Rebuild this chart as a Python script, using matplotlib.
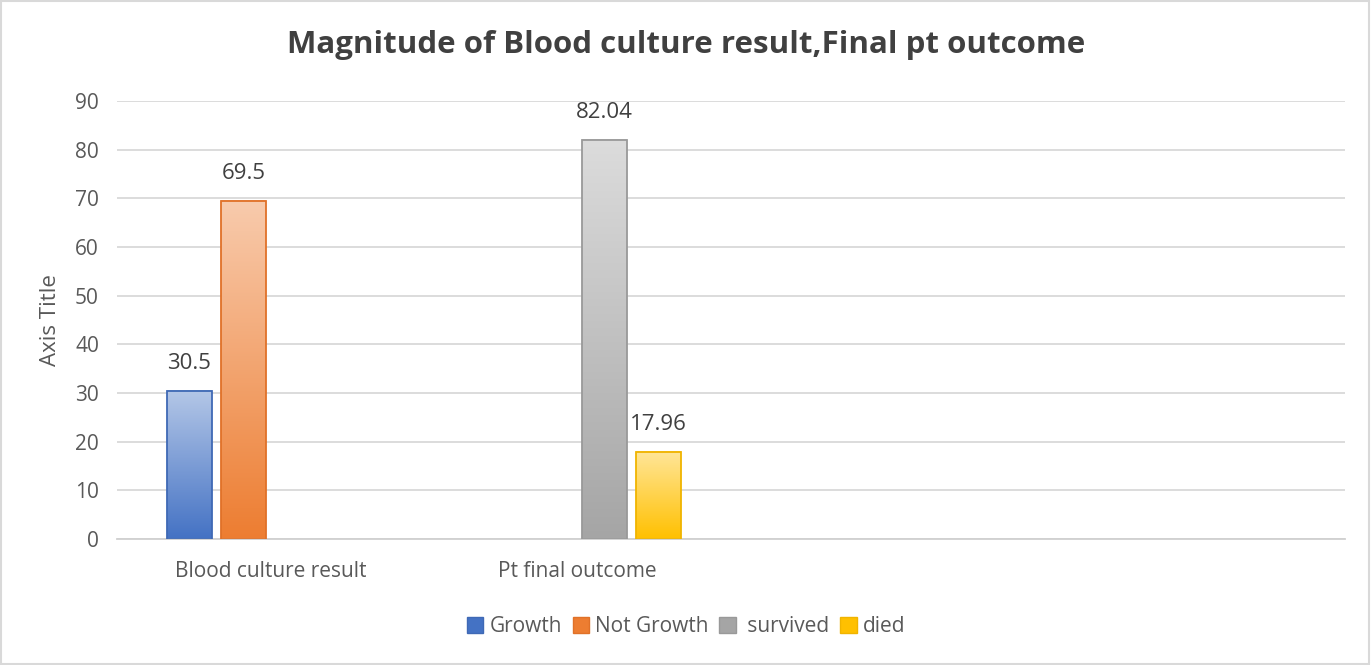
import numpy as np
import matplotlib.pyplot as plt
import matplotlib.colors as mcolors
from matplotlib.patches import Rectangle, Patch

# data
categories = ['Blood culture result', 'Pt final outcome', '', '']
series = ['Growth', 'Not Growth', ' survived', 'died']
growth = [30.5, 0, 0, 0]
not_growth = [69.5, 0, 0, 0]
survived = [0, 82.04, 0, 0]
died = [0, 17.96, 0, 0]
value_labels = [['30.5', '', '', ''], ['69.5', '', '', ''],
                ['', '82.04', '', ''], ['', '17.96', '', '']]

# top colour, bottom colour, edge colour
colors = [('#b4c7e7', '#4472c4', '#3f69b5'),
          ('#f8cbad', '#ed7d31', '#e07128'),
          ('#dcdcdc', '#a5a5a5', '#999999'),
          ('#ffe699', '#ffc000', '#f0b400')]

plt.rcParams['font.family'] = ['Open Sans', 'DejaVu Sans']

fig = plt.figure(figsize=(13.72, 6.65), dpi=100)
ax = fig.add_axes([117 / 1372, 126 / 665, 1228 / 1372, 438 / 665])

x = np.arange(len(categories))
width = 0.145
step = 0.176
all_vals = [growth, not_growth, survived, died]

for i, vals in enumerate(all_vals):
    top, bottom, edge = colors[i]
    cmap = mcolors.LinearSegmentedColormap.from_list('g%d' % i, [bottom, top])
    offset = (i - 1.5) * step
    for j, v in enumerate(vals):
        if v <= 0:
            continue
        x0 = x[j] + offset - width / 2
        grad = np.linspace(0, 1, 256).reshape(-1, 1)
        ax.imshow(grad, extent=(x0, x0 + width, 0, v), origin='lower',
                  aspect='auto', cmap=cmap, zorder=2)
        ax.add_patch(Rectangle((x0, 0), width, v, fill=False,
                               edgecolor=edge, linewidth=1.3, zorder=3))
        ax.annotate(value_labels[i][j], (x[j] + offset, v), xytext=(0, 12),
                    textcoords='offset points', ha='center', va='bottom',
                    fontsize=16, color='#404040')

ax.set_xlim(-0.5, len(categories) - 0.5)
ax.set_ylim(0, 90)
ax.set_yticks(range(0, 91, 10))
ax.set_xticks(x)
ax.set_xticklabels(categories)
ax.tick_params(axis='both', length=0, labelsize=15, labelcolor='#595959')
ax.tick_params(axis='x', pad=16)
ax.tick_params(axis='y', pad=13)
ax.grid(axis='y', color='#d9d9d9', linewidth=1.3)
ax.set_axisbelow(True)
for s in ['top', 'right', 'left']:
    ax.spines[s].set_visible(False)
ax.spines['bottom'].set_color('#d0d0d0')
ax.spines['bottom'].set_linewidth(1.3)
ax.set_ylabel('Axis Title', fontsize=16, color='#595959', labelpad=10)

fig.text(0.5, 1 - 45 / 665, 'Magnitude of Blood culture result,Final pt outcome',
         ha='center', va='center', fontsize=22.5, fontweight='bold', color='#404040')

handles = [Patch(facecolor=colors[i][1], edgecolor=colors[i][2], label=series[i])
           for i in range(4)]
fig.legend(handles=handles, loc='center', bbox_to_anchor=(0.5, 0.058), ncol=4,
           frameon=False, fontsize=15, handlelength=0.8, handleheight=0.8,
           handletextpad=0.3, columnspacing=0.5, labelcolor='#595959')

fig.add_artist(Rectangle((0.001, 0.002), 0.997, 0.996, transform=fig.transFigure,
                         fill=False, edgecolor='#d9d9d9', linewidth=1.5))

fig.savefig('out.png', dpi=100)
